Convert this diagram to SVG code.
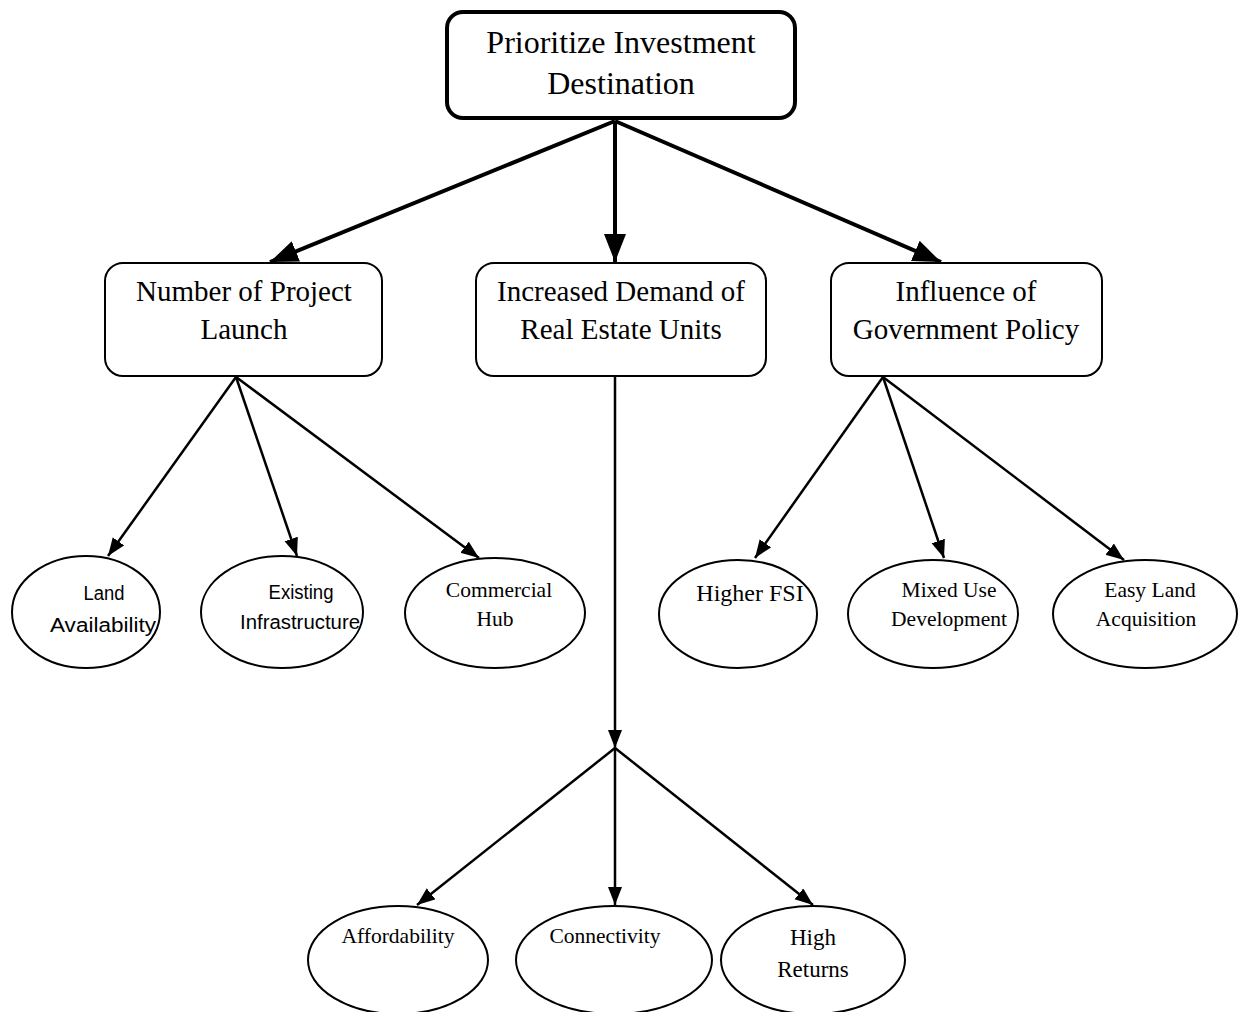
<svg xmlns="http://www.w3.org/2000/svg" width="1240" height="1012" viewBox="0 0 1240 1012">
<style>
.box{fill:#fff;stroke:#000;stroke-width:2}
.top{fill:#fff;stroke:#000;stroke-width:4}
.ell{fill:#fff;stroke:#000;stroke-width:2}
.t{font-family:"Liberation Serif","Times New Roman",serif;fill:#000;text-anchor:middle}
.s{font-family:"Liberation Sans",Arial,sans-serif;fill:#000;text-anchor:middle;font-size:20px}
.thick{stroke:#000;stroke-width:4;fill:none}
.thin{stroke:#000;stroke-width:2.5;fill:none}
</style>
<defs>
<marker id="big" markerUnits="userSpaceOnUse" markerWidth="30" markerHeight="24" refX="28" refY="11" orient="auto">
<path d="M0,0 L28,11 L0,22 z" fill="#000"/>
</marker>
<marker id="small" markerUnits="userSpaceOnUse" markerWidth="20" markerHeight="16" refX="18" refY="7" orient="auto">
<path d="M0,0 L18,7 L0,14 z" fill="#000"/>
</marker>
</defs>
<g id="connectors">
<line class="thick" x1="615" y1="121" x2="270" y2="262" marker-end="url(#big)"/>
<line class="thick" x1="615" y1="121" x2="615" y2="262" marker-end="url(#big)"/>
<line class="thick" x1="615" y1="121" x2="941" y2="262" marker-end="url(#big)"/>
<line class="thin" x1="236" y1="377" x2="108" y2="556" marker-end="url(#small)"/>
<line class="thin" x1="236" y1="377" x2="297" y2="556" marker-end="url(#small)"/>
<line class="thin" x1="236" y1="377" x2="479" y2="558" marker-end="url(#small)"/>
<line class="thin" x1="883" y1="377" x2="755" y2="558" marker-end="url(#small)"/>
<line class="thin" x1="883" y1="377" x2="944" y2="558" marker-end="url(#small)"/>
<line class="thin" x1="883" y1="377" x2="1124" y2="560" marker-end="url(#small)"/>
<line class="thin" x1="615" y1="377" x2="615" y2="748" marker-end="url(#small)"/>
<line class="thin" x1="615" y1="748" x2="417" y2="905" marker-end="url(#small)"/>
<line class="thin" x1="615" y1="748" x2="615" y2="905" marker-end="url(#small)"/>
<line class="thin" x1="615" y1="748" x2="813" y2="905" marker-end="url(#small)"/>
</g>
<g id="n-root">
<rect class="top" x="447" y="12" width="348" height="106" rx="16"/>
<text class="t" x="621" y="53" font-size="32">Prioritize Investment</text>
<text class="t" x="621" y="94" font-size="32">Destination</text>
</g>
<g id="n-project">
<rect class="box" x="105" y="263" width="277" height="113" rx="18"/>
<text class="t" x="244" y="301" font-size="29">Number of Project</text>
<text class="t" x="244" y="339" font-size="29">Launch</text>
</g>
<g id="n-demand">
<rect class="box" x="476" y="263" width="290" height="113" rx="18"/>
<text class="t" x="621" y="301" font-size="29">Increased Demand of</text>
<text class="t" x="621" y="339" font-size="29">Real Estate Units</text>
</g>
<g id="n-policy">
<rect class="box" x="831" y="263" width="271" height="113" rx="18"/>
<text class="t" x="966" y="301" font-size="29">Influence of</text>
<text class="t" x="966" y="339" font-size="29">Government Policy</text>
</g>
<g id="n-land">
<ellipse class="ell" cx="86" cy="612" rx="74" ry="56"/>
<text class="s" x="104" y="600" textLength="41" lengthAdjust="spacingAndGlyphs">Land</text>
<text class="s" x="103" y="632" textLength="106" lengthAdjust="spacingAndGlyphs">Availability</text>
</g>
<g id="n-infra">
<ellipse class="ell" cx="282" cy="612" rx="81" ry="56"/>
<text class="s" x="301" y="599" textLength="65" lengthAdjust="spacingAndGlyphs">Existing</text>
<text class="s" x="300" y="629" textLength="120" lengthAdjust="spacingAndGlyphs">Infrastructure</text>
</g>
<g id="n-hub">
<ellipse class="ell" cx="495" cy="613" rx="90" ry="55"/>
<text class="t" x="499" y="597" font-size="21.5">Commercial</text>
<text class="t" x="495" y="626" font-size="21.5">Hub</text>
</g>
<g id="n-fsi">
<ellipse class="ell" cx="738" cy="614" rx="79" ry="54"/>
<text class="t" x="750" y="601" font-size="24">Higher FSI</text>
</g>
<g id="n-mixed">
<ellipse class="ell" cx="933" cy="614" rx="85" ry="54"/>
<text class="t" x="949" y="597" font-size="21.5">Mixed Use</text>
<text class="t" x="949" y="626" font-size="21.5">Development</text>
</g>
<g id="n-easy">
<ellipse class="ell" cx="1145" cy="614" rx="92" ry="54"/>
<text class="t" x="1150" y="597" font-size="21.5">Easy Land</text>
<text class="t" x="1146" y="626" font-size="21.5">Acquisition</text>
</g>
<g id="n-afford">
<ellipse class="ell" cx="398" cy="960" rx="90" ry="54"/>
<text class="t" x="398" y="943" font-size="21.5">Affordability</text>
</g>
<g id="n-connect">
<ellipse class="ell" cx="614" cy="960" rx="98" ry="54"/>
<text class="t" x="605" y="943" font-size="21.5">Connectivity</text>
</g>
<g id="n-returns">
<ellipse class="ell" cx="813" cy="960" rx="92" ry="54"/>
<text class="t" x="813" y="945" font-size="23">High</text>
<text class="t" x="813" y="977" font-size="23">Returns</text>
</g>
</svg>
